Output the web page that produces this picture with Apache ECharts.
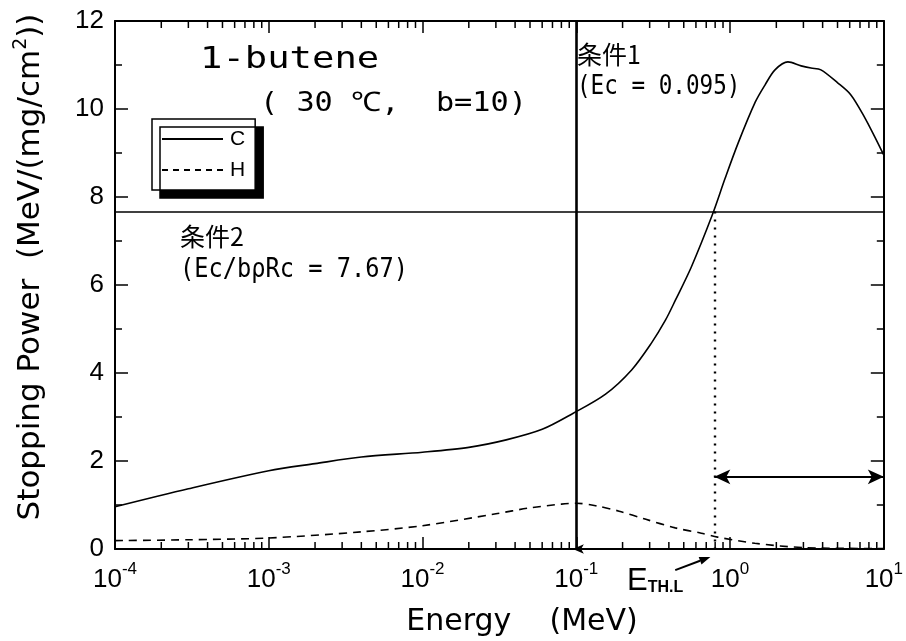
<!DOCTYPE html>
<html><head><meta charset="utf-8">
<script src="https://cdn.jsdelivr.net/npm/echarts@6/dist/echarts.min.js"></script>
<style>html,body{margin:0;padding:0;background:#fff}#c{width:906px;height:641px}</style>
</head><body><div id="c"></div>
<script>
// ---- data ----
const energyC = [1e-4, 3e-4, 1e-3, 2e-3, 4e-3, 1e-2, 2e-2, 3.5e-2, 6e-2, 0.095, 0.155, 0.229, 0.308, 0.38, 0.442, 0.56, 0.766, 0.93, 1.13, 1.46, 1.69, 1.96, 2.38, 2.9, 3.36, 3.9, 5.03, 6.11, 7.53, 8.75, 10];
const stoppingC = [0.96, 1.37, 1.78, 1.94, 2.09, 2.20, 2.31, 2.48, 2.72, 3.08, 3.52, 4.07, 4.68, 5.20, 5.66, 6.41, 7.59, 8.43, 9.23, 10.16, 10.55, 10.89, 11.07, 10.98, 10.93, 10.89, 10.59, 10.32, 9.80, 9.36, 8.95];
const energyH = [1e-4, 3e-4, 1e-3, 4e-3, 1e-2, 3e-2, 4.9e-2, 8e-2, 0.1, 0.135, 0.19, 0.28, 0.44, 0.65, 0.83, 1.45, 3.1, 10];
const stoppingH = [0.19, 0.21, 0.25, 0.39, 0.53, 0.80, 0.93, 1.02, 1.04, 0.98, 0.86, 0.68, 0.48, 0.36, 0.27, 0.13, 0.03, 0.01];
const seriesNames = ['C', 'H'];
const Ec = 0.095;          // 条件1
const condition2 = 7.67;   // 条件2
const eThL = 0.79;         // E_TH.L
const rangeArrowY = 1.64;
const xMin = 1e-4, xMax = 10, yMin = 0, yMax = 12, yStep = 2;
const decadeStarts = [1e-4, 1e-3, 1e-2, 1e-1, 1];
const minorMantissas = [2, 3, 4, 5, 6, 7, 8, 9];
const eThLArrowFrom = [0.44, -0.48];
const eThLArrowTo = [0.745, -0.18];

const minorTicks = [];
decadeStarts.forEach(d => minorMantissas.forEach(m => minorTicks.push([d * m, 0])));

const chart = echarts.init(document.getElementById('c'), null, {renderer: 'canvas'});
const black = '#000';
const axisCommon = {
  axisLine: {show: true, onZero: false, lineStyle: {color: black, width: 2}},
  splitLine: {show: false}
};
const supExp = v => {
  const e = Math.round(Math.log10(v));
  return '{b|10}{s|' + e + '}';
};
const solidIcon = 'path://M0,0h61v2h-61z';
const dashIcon = 'path://M0,0h6v2h-6zM11,0h6v2h-6zM22,0h6v2h-6zM33,0h6v2h-6zM44,0h6v2h-6zM55,0h6v2h-6z';

chart.setOption({
  animation: false,
  backgroundColor: '#fff',
  grid: {left: 115, right: 20, top: 21, bottom: 92, containLabel: false},
  legend: {
    data: [{name: seriesNames[0], icon: solidIcon}, {name: seriesNames[1], icon: dashIcon}],
    orient: 'vertical', left: 152, top: 119,
    itemWidth: 65, itemHeight: 2, itemGap: 9, padding: [9, 10, 9, 10],
    backgroundColor: '#fff', borderColor: black, borderWidth: 1.5, borderRadius: 0,
    shadowColor: black, shadowBlur: 0, shadowOffsetX: 8, shadowOffsetY: 8,
    itemStyle: {color: black, borderWidth: 0},
    lineStyle: {width: 0},
    textStyle: {fontFamily: 'Liberation Sans', fontSize: 21, lineHeight: 22, color: black},
    selectedMode: false
  },
  xAxis: [
    Object.assign({type: 'log', logBase: 10, min: xMin, max: xMax, position: 'bottom',
      axisTick: {show: true, inside: true, length: 12, lineStyle: {color: black, width: 1.5}},
      axisLabel: {show: true, margin: 12, formatter: supExp,
        rich: {
          b: {fontFamily: 'Liberation Sans', fontSize: 26, color: black, verticalAlign: 'bottom', lineHeight: 32},
          s: {fontFamily: 'Liberation Sans', fontSize: 17, color: black, verticalAlign: 'top', lineHeight: 18}
        }}
    }, axisCommon),
    Object.assign({type: 'log', logBase: 10, min: xMin, max: xMax, position: 'top',
      axisTick: {show: true, inside: true, length: 12, lineStyle: {color: black, width: 1.5}},
      axisLabel: {show: false}
    }, axisCommon)
  ],
  yAxis: [
    Object.assign({type: 'value', min: yMin, max: yMax, interval: yStep, position: 'left',
      axisTick: {show: true, inside: true, length: 13, lineStyle: {color: black, width: 1.5}},
      minorTick: {show: true, splitNumber: 2, length: 7, lineStyle: {color: black, width: 1.5}},
      axisLabel: {margin: 11, fontFamily: 'Liberation Sans', fontSize: 26, color: black}
    }, axisCommon),
    Object.assign({type: 'value', min: yMin, max: yMax, interval: yStep, position: 'right',
      axisTick: {show: true, inside: true, length: 13, lineStyle: {color: black, width: 1.5}},
      minorTick: {show: true, splitNumber: 2, length: 7, lineStyle: {color: black, width: 1.5}},
      axisLabel: {show: false}
    }, axisCommon)
  ],
  series: [
    {name: seriesNames[0], type: 'line', smooth: 0.3, symbol: 'none',
      data: energyC.map((e, i) => [e, stoppingC[i]]),
      lineStyle: {color: black, width: 1.6}, itemStyle: {color: black}, z: 5},
    {name: seriesNames[1], type: 'line', smooth: 0.3, symbol: 'none',
      data: energyH.map((e, i) => [e, stoppingH[i]]),
      lineStyle: {color: black, width: 1.6, type: [8, 6]}, itemStyle: {color: black}, z: 5},
    {name: 'annot', type: 'line', data: [], symbol: 'none', clip: false,
      markLine: {
        silent: true, symbol: 'none', animation: false, label: {show: false},
        emphasis: {disabled: true},
        data: [
          {xAxis: Ec, lineStyle: {color: black, width: 2.6, type: 'solid'}},
          {yAxis: condition2, lineStyle: {color: black, width: 1.6, type: 'solid'}},
          [{coord: [eThL, condition2], lineStyle: {color: black, width: 2.4, type: [2, 6]}}, {coord: [eThL, 0]}],
          [{coord: [eThL, rangeArrowY], symbol: 'arrow', symbolSize: [11, 16], lineStyle: {color: black, width: 2, type: 'solid'}},
           {coord: [xMax, rangeArrowY], symbol: 'arrow', symbolSize: [11, 16]}],
          [{coord: [eThL, 0], symbol: 'none', lineStyle: {color: black, width: 2, type: 'solid'}},
           {coord: [Ec, 0], symbol: 'arrow', symbolSize: [7, 11]}]
        ]
      }},
    {name: 'minorX', type: 'custom', data: minorTicks, silent: true, clip: false, z: 3,
      renderItem: (params, api) => {
        const v = api.value(0);
        const pb = api.coord([v, yMin]);
        const pt = api.coord([v, yMax]);
        const st = {stroke: black, lineWidth: 1.5};
        return {type: 'group', children: [
          {type: 'line', shape: {x1: pb[0], y1: pb[1], x2: pb[0], y2: pb[1] - 7}, style: st},
          {type: 'line', shape: {x1: pt[0], y1: pt[1], x2: pt[0], y2: pt[1] + 7}, style: st}
        ]};
      }}
  ]
});

// annotations
const p0 = chart.convertToPixel({xAxisIndex: 0, yAxisIndex: 0}, eThLArrowFrom);
const p1 = chart.convertToPixel({xAxisIndex: 0, yAxisIndex: 0}, eThLArrowTo);
const dx = p1[0] - p0[0], dy = p1[1] - p0[1], L = Math.hypot(dx, dy);
const ux = dx / L, uy = dy / L, nx = -uy, ny = ux;
const bx = p1[0] - ux * 11, by = p1[1] - uy * 11;

const mono = 'DejaVu Sans Mono';
const cjk = '"Noto Sans CJK JP"';
chart.setOption({
  graphic: [
    {type: 'text', x: 200, y: 60, scaleX: 1.2, style: {text: '1-butene', font: '31px ' + mono, fill: black, align: 'left', verticalAlign: 'middle'}},
    {type: 'text', x: 260, y: 104, scaleX: 1.12, style: {text: '( 30 ℃,  b=10)', font: '27px ' + mono, fill: black, align: 'left', verticalAlign: 'middle'}},
    {type: 'text', x: 577, y: 54, style: {text: '条件1', font: '25px ' + cjk, fill: black, align: 'left', verticalAlign: 'middle'}},
    {type: 'text', x: 577, y: 87, scaleX: 0.87, style: {text: '(Ec = 0.095)', font: '26px ' + mono, fill: black, align: 'left', verticalAlign: 'middle'}},
    {type: 'text', x: 180, y: 236, style: {text: '条件2', font: '25px ' + cjk, fill: black, align: 'left', verticalAlign: 'middle'}},
    {type: 'text', x: 180, y: 270, scaleX: 0.91, style: {text: '(Ec/bρRc = 7.67)', font: '26px ' + mono, fill: black, align: 'left', verticalAlign: 'middle'}},
    {type: 'text', x: 29, y: 267, rotation: Math.PI / 2, style: {
      text: '{t|Stopping Power  (MeV/(mg/cm}{s|2}{t|))}', align: 'center', verticalAlign: 'middle',
      rich: {t: {font: '31px DejaVu Sans', fill: black, verticalAlign: 'bottom', lineHeight: 34},
             s: {font: '19px DejaVu Sans', fill: black, verticalAlign: 'top', lineHeight: 20}}}},
    {type: 'text', x: 522, y: 622, style: {text: 'Energy    (MeV)', font: '30px DejaVu Sans', fill: black, align: 'center', verticalAlign: 'middle'}},
    {type: 'text', x: 627, y: 581, style: {
      text: '{e|E}{s|TH.L}', align: 'left', verticalAlign: 'middle',
      rich: {e: {font: '31px Liberation Sans', fill: black, verticalAlign: 'top', lineHeight: 30},
             s: {font: 'bold 16px Liberation Sans', fill: black, verticalAlign: 'bottom', lineHeight: 14}}}},
    {type: 'line', shape: {x1: p0[0], y1: p0[1], x2: bx, y2: by}, style: {stroke: black, lineWidth: 2}},
    {type: 'polygon', shape: {points: [[p1[0], p1[1]], [bx + nx * 4, by + ny * 4], [bx - nx * 4, by - ny * 4]]}, style: {fill: black}}
  ]
});
</script></body></html>
